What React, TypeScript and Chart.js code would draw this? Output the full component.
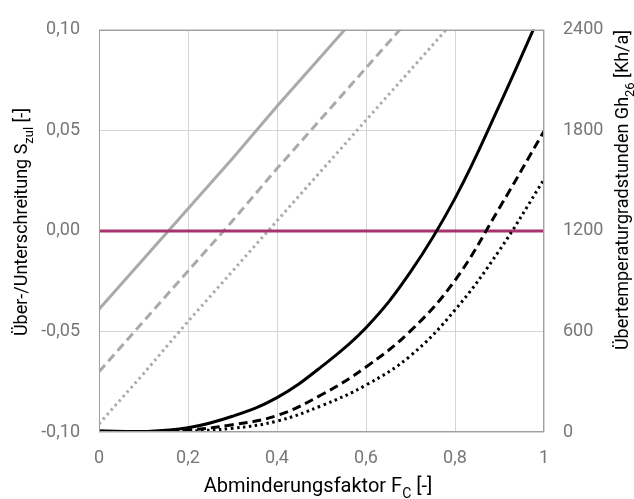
import React, { useEffect, useRef } from "react";
import { Chart, registerables } from "chart.js";

Chart.register(...registerables);

// Abminderungsfaktor F_C (x values)
const FC = [0, 0.1, 0.2, 0.3, 0.4, 0.5, 0.6, 0.7, 0.8, 0.9, 1.0];

// Über-/Unterschreitung S_zul (left axis) – grey lines
const S_SOLID = [-0.039, -0.014, 0.011, 0.036, 0.062, 0.087, 0.112, 0.137, 0.163, 0.188, 0.213];
const S_DASHED = [-0.070, -0.045, -0.020, 0.005, 0.031, 0.056, 0.081, 0.106, 0.131, 0.156, 0.182];
const S_DOTTED = [-0.096, -0.071, -0.045, -0.020, 0.005, 0.030, 0.055, 0.080, 0.105, 0.130, 0.155];

// Übertemperaturgradstunden Gh26 (right axis) – black curves
const GH_SOLID = [8, 3, 25, 94, 205, 390, 622, 955, 1394, 1950, 2545];
const GH_DASHED = [2, 1, 12, 43, 98, 222, 388, 603, 905, 1338, 1795];
const GH_DOTTED = [1, 0, 6, 22, 65, 157, 280, 455, 728, 1085, 1507];

// Reference line S = 0
const ZERO_X = [0, 1];
const ZERO_Y = [0, 0];

const X_TICKS = [0, 0.2, 0.4, 0.6, 0.8, 1];

const FONT = "Roboto, 'Liberation Sans', sans-serif";

const pts = (xs: number[], ys: number[]) => xs.map((x, i) => ({ x, y: ys[i] }));

type Part = { t: string; sub?: boolean };

function drawRich(
  ctx: CanvasRenderingContext2D,
  parts: Part[],
  cx: number,
  cy: number,
  angle: number,
  size: number
) {
  const main = `${size}px ${FONT}`;
  const subSize = Math.round(size * 0.7);
  const sub = `${subSize}px ${FONT}`;
  let total = 0;
  const widths = parts.map((p) => {
    ctx.font = p.sub ? sub : main;
    const w = ctx.measureText(p.t).width;
    total += w;
    return w;
  });
  ctx.save();
  ctx.translate(cx, cy);
  ctx.rotate(angle);
  ctx.fillStyle = "#000";
  ctx.textAlign = "left";
  ctx.textBaseline = "alphabetic";
  let x = -total / 2;
  const base = size * 0.36;
  parts.forEach((p, i) => {
    ctx.font = p.sub ? sub : main;
    ctx.fillText(p.t, x, p.sub ? base + size * 0.28 : base);
    x += widths[i];
  });
  ctx.restore();
}

const titlePlugin = {
  id: "richTitles",
  afterDraw(chart: any) {
    const ctx = chart.ctx as CanvasRenderingContext2D;
    const a = chart.chartArea;
    ctx.save();
    ctx.strokeStyle = "#a0a0a0";
    ctx.lineWidth = 1;
    ctx.strokeRect(Math.round(a.left) + 0.5, Math.round(a.top) + 0.5, Math.round(a.right - a.left) - 1, Math.round(a.bottom - a.top) - 1);
    ctx.restore();
    drawRich(ctx, [{ t: "Abminderungsfaktor F" }, { t: "C", sub: true }, { t: " [-]" }], 318, 485, 0, 20);
    drawRich(ctx, [{ t: "Über-/Unterschreitung S" }, { t: "zul", sub: true }, { t: " [-]" }], 21, 222, -Math.PI / 2, 18);
    drawRich(ctx, [{ t: "Übertemperaturgradstunden Gh" }, { t: "26", sub: true }, { t: " [Kh/a]" }], 622, 190, -Math.PI / 2, 18);
  },
};

export default function App() {
  const ref = useRef<HTMLCanvasElement>(null);

  useEffect(() => {
    if (!ref.current) return;
    const grey = "#aaaaaa";
    const chart = new Chart(ref.current, {
      type: "line",
      data: {
        datasets: [
          { data: pts(FC, GH_SOLID), yAxisID: "y2", borderColor: "#000", borderWidth: 3, tension: 0.4, order: 1 },
          { data: pts(FC, GH_DASHED), yAxisID: "y2", borderColor: "#000", borderWidth: 3, borderDash: [9, 5], tension: 0.4, order: 1 },
          { data: pts(FC, GH_DOTTED), yAxisID: "y2", borderColor: "#000", borderWidth: 3, borderDash: [2.5, 3.5], tension: 0.4, order: 1 },
          { data: pts(ZERO_X, ZERO_Y), yAxisID: "y", borderColor: "#a8336f", borderWidth: 3, tension: 0, order: 2 },
          { data: pts(FC, S_SOLID), yAxisID: "y", borderColor: grey, borderWidth: 3, tension: 0, order: 3 },
          { data: pts(FC, S_DASHED), yAxisID: "y", borderColor: grey, borderWidth: 3, borderDash: [9, 5], tension: 0, order: 3 },
          { data: pts(FC, S_DOTTED), yAxisID: "y", borderColor: grey, borderWidth: 3, borderDash: [2.5, 3.5], tension: 0, order: 3 },
        ].map((d) => ({ ...d, pointRadius: 0, fill: false, clip: 0 })) as any,
      },
      options: {
        animation: false,
        responsive: false,
        layout: { padding: { top: 21, left: 0, right: 0, bottom: 0 } },
        plugins: { legend: { display: false }, tooltip: { enabled: false } },
        scales: {
          x: {
            type: "linear",
            min: 0,
            max: 1,
            afterBuildTicks: (s: any) => {
              s.ticks = X_TICKS.map((v) => ({ value: v }));
            },
            afterFit: (s: any) => {
              s.height = 67;
            },
            grid: { color: "#d4d4d4", drawTicks: false },
            border: { display: false },
            ticks: {
              padding: 16,
              color: "#777",
              font: { family: FONT, size: 18 },
              callback: (v: any) => (v === 0 ? "0" : v === 1 ? "1" : Number(v).toFixed(1).replace(".", ",")),
            },
          },
          y: {
            position: "left",
            min: -0.1,
            max: 0.1,
            afterFit: (s: any) => {
              s.width = 99;
            },
            grid: { color: "#d4d4d4", drawTicks: false },
            border: { display: false },
            ticks: {
              stepSize: 0.05,
              padding: 19,
              color: "#777",
              font: { family: FONT, size: 18 },
              callback: (v: any) => {
                const n = Math.abs(v) < 1e-9 ? 0 : Number(v);
                return n.toFixed(2).replace(".", ",");
              },
            },
          },
          y2: {
            position: "right",
            min: 0,
            max: 2400,
            afterFit: (s: any) => {
              s.width = 90;
            },
            grid: { drawOnChartArea: false, drawTicks: false },
            border: { display: false },
            ticks: {
              stepSize: 600,
              padding: 19,
              color: "#777",
              font: { family: FONT, size: 18 },
              callback: (v: any) => String(Math.round(Number(v))),
            },
          },
        },
      },
      plugins: [titlePlugin],
    });
    return () => chart.destroy();
  }, []);

  return (
    <div style={{ position: "fixed", left: 0, top: 0, width: 634, height: 499, background: "#fff" }}>
      <canvas ref={ref} width={634} height={499} />
    </div>
  );
}
